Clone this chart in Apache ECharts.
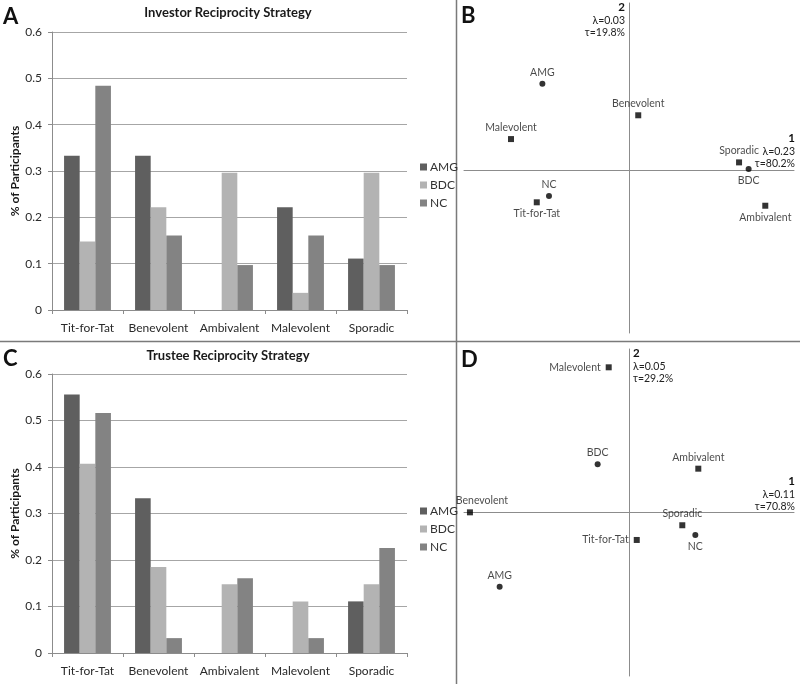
<!DOCTYPE html>
<html>
<head>
<meta charset="utf-8">
<script src="https://cdn.jsdelivr.net/npm/echarts@6/dist/echarts.min.js"></script>
<style>
html,body{margin:0;padding:0;background:#fff;}
#chart{width:800px;height:684px;}
</style>
</head>
<body>
<div id="chart"></div>
<script>
// ---------- DATA ----------
const categories = ['Tit-for-Tat', 'Benevolent', 'Ambivalent', 'Malevolent', 'Sporadic'];
const groupNames = ['AMG', 'BDC', 'NC'];

// Panel A: Investor reciprocity strategy (proportion of participants)
const investorAMG = [0.333, 0.333, 0.000, 0.222, 0.111];
const investorBDC = [0.148, 0.222, 0.296, 0.037, 0.296];
const investorNC  = [0.484, 0.161, 0.097, 0.161, 0.097];

// Panel C: Trustee reciprocity strategy
const trusteeAMG = [0.556, 0.333, 0.000, 0.000, 0.111];
const trusteeBDC = [0.407, 0.185, 0.148, 0.111, 0.148];
const trusteeNC  = [0.516, 0.032, 0.161, 0.032, 0.226];

// Panel B: correspondence analysis (investor) — dimension scores
const invGroupDim1 = [-0.525, 0.725, -0.485];
const invGroupDim2 = [0.529, 0.006, -0.160];
const invStratDim1 = [-0.559, 0.056, 0.826, -0.715, 0.667];
const invStratDim2 = [-0.198, 0.336, -0.219, 0.190, 0.047];
const invDim1Info = ['1', 'λ=0.23', 'τ=80.2%'];
const invDim2Info = ['2', 'λ=0.03', 'τ=19.8%'];

// Panel D: correspondence analysis (trustee)
const truGroupDim1 = [-0.784, -0.190, 0.402];
const truGroupDim2 = [-0.454, 0.295, -0.138];
const truStratDim1 = [0.047, -0.964, 0.420, -0.123, 0.323];
const truStratDim2 = [-0.168, 0.001, 0.268, 0.888, -0.078];
const truDim1Info = ['1', 'λ=0.11', 'τ=70.8%'];
const truDim2Info = ['2', 'λ=0.05', 'τ=29.2%'];

const yTicks = [0, 0.1, 0.2, 0.3, 0.4, 0.5, 0.6];

// ---------- STYLE ----------
const FONT = 'Lato';
const colors = { AMG: '#5f5f5f', BDC: '#b3b3b3', NC: '#838383' };
const labelPlace = {
  invGroups: { AMG: ['top'], BDC: ['bottom'], NC: ['top'] },
  invStrats: { 'Tit-for-Tat': ['bottom'], Benevolent: ['top'], Ambivalent: ['bottom'], Malevolent: ['top'], Sporadic: ['top'] },
  truGroups: { AMG: ['top'], BDC: ['top'], NC: ['bottom'] },
  truStrats: { 'Tit-for-Tat': ['left'], Benevolent: ['top', [12, 0]], Ambivalent: ['top'], Malevolent: ['left'], Sporadic: ['top'] }
};

function pts(names, d1, d2, placeKey) {
  return names.map((n, i) => {
    const p = labelPlace[placeKey][n] || ['top'];
    return {
      name: n,
      value: [d1[i], d2[i]],
      label: { position: p[0], offset: p[1] || [0, 0], distance: p[0] === 'left' ? 5 : 3 }
    };
  });
}

function barSeries(name, data, idx) {
  return {
    type: 'bar', name: name, data: data,
    xAxisIndex: idx, yAxisIndex: idx,
    barGap: '0%', barCategoryGap: '34%',
    itemStyle: { color: colors[name] },
    silent: true
  };
}

function scatterSeries(name, data, idx, symbol) {
  return {
    type: 'scatter', name: name, data: data,
    xAxisIndex: idx, yAxisIndex: idx,
    symbol: symbol, symbolSize: 6,
    itemStyle: { color: '#000' },
    label: { show: true, formatter: '{b}', fontFamily: FONT, fontSize: 10.5, color: '#1a1a1a' },
    silent: true
  };
}

const barX = (gi) => ({
  type: 'category', gridIndex: gi, data: categories,
  axisLine: { lineStyle: { color: '#8c8c8c', width: 1 } },
  axisTick: { show: true, length: 4, lineStyle: { color: '#8c8c8c' } },
  axisLabel: { interval: 0, fontFamily: FONT, fontSize: 12, color: '#2a2a2a', margin: 12 }
});
const barY = (gi) => ({
  type: 'value', gridIndex: gi, min: yTicks[0], max: yTicks[yTicks.length - 1], interval: 0.1,
  name: '% of Participants', nameLocation: 'middle', nameGap: 31, nameRotate: 90,
  nameTextStyle: { fontFamily: FONT, fontSize: 12, fontWeight: 'bold', color: '#1a1a1a' },
  axisLine: { show: true, lineStyle: { color: '#8c8c8c', width: 1 } },
  axisTick: { show: true, length: 4, lineStyle: { color: '#8c8c8c' } },
  axisLabel: { fontFamily: FONT, fontSize: 12, color: '#2a2a2a', margin: 10,
    formatter: v => (v === 0 ? '0' : v.toFixed(1)) },
  splitLine: { lineStyle: { color: '#a6a6a6', width: 1 } }
});
const caAxis = (gi, min, max) => ({
  type: 'value', gridIndex: gi, min: min, max: max,
  axisLine: { show: true, onZero: true, lineStyle: { color: '#8c8c8c', width: 1 } },
  axisTick: { show: false }, axisLabel: { show: false }, splitLine: { show: false }
});

function richInfo(info) {
  return '{b|' + info[0] + '}\n' + info[1] + '\n' + info[2];
}
function infoText(info, x, y, align) {
  return {
    type: 'text', x: x, y: y, silent: true,
    style: {
      text: richInfo(info), align: align, verticalAlign: 'top',
      fontFamily: FONT, fontSize: 10.5, fill: '#222', lineHeight: 12.5,
      rich: { b: { fontFamily: FONT, fontSize: 11.5, fontWeight: 'bold', fill: '#111', lineHeight: 14 } }
    }
  };
}
function bigLetter(t, x, y) {
  return { type: 'text', x: x, y: y, silent: true,
    style: { text: t, fontFamily: FONT, fontSize: 22, fontWeight: 'bold', fill: '#111' } };
}
function titleText(t, x, y) {
  return { type: 'text', x: x, y: y, silent: true,
    style: { text: t, align: 'center', verticalAlign: 'middle', fontFamily: FONT, fontSize: 13, fontWeight: 'bold', fill: '#1a1a1a' } };
}

const chart = echarts.init(document.getElementById('chart'), null, { renderer: 'canvas' });
chart.setOption({
  backgroundColor: '#fff',
  animation: false,
  grid: [
    { left: 52, top: 32, width: 355, height: 278 },
    { left: 52, top: 374, width: 355, height: 279 },
    { left: 464, top: 3, width: 330, height: 330 },
    { left: 464, top: 349, width: 330, height: 327 }
  ],
  xAxis: [barX(0), barX(1), caAxis(2, -1, 1), caAxis(3, -1, 1)],
  yAxis: [barY(0), barY(1), caAxis(2, -1, 1.025), caAxis(3, -1, 1)],
  legend: [
    { data: groupNames, orient: 'vertical', left: 415, top: 156, icon: 'rect', itemWidth: 7, itemHeight: 7, itemGap: 6,
      textStyle: { fontFamily: FONT, fontSize: 12, color: '#333', padding: [0, 0, 0, -2] }, selectedMode: false },
    { data: groupNames, orient: 'vertical', left: 415, top: 500, icon: 'rect', itemWidth: 7, itemHeight: 7, itemGap: 6,
      textStyle: { fontFamily: FONT, fontSize: 12, color: '#333', padding: [0, 0, 0, -2] }, selectedMode: false }
  ],
  series: [
    barSeries('AMG', investorAMG, 0),
    barSeries('BDC', investorBDC, 0),
    barSeries('NC', investorNC, 0),
    barSeries('AMG', trusteeAMG, 1),
    barSeries('BDC', trusteeBDC, 1),
    barSeries('NC', trusteeNC, 1),
    scatterSeries('Investor groups', pts(groupNames, invGroupDim1, invGroupDim2, 'invGroups'), 2, 'circle'),
    scatterSeries('Investor strategies', pts(categories, invStratDim1, invStratDim2, 'invStrats'), 2, 'rect'),
    scatterSeries('Trustee groups', pts(groupNames, truGroupDim1, truGroupDim2, 'truGroups'), 3, 'circle'),
    scatterSeries('Trustee strategies', pts(categories, truStratDim1, truStratDim2, 'truStrats'), 3, 'rect')
  ],
  graphic: [
    { type: 'line', silent: true, shape: { x1: 456.5, y1: 0, x2: 456.5, y2: 684 }, style: { stroke: '#7a7a7a', lineWidth: 1.5 } },
    { type: 'line', silent: true, shape: { x1: 0, y1: 341.5, x2: 800, y2: 341.5 }, style: { stroke: '#7a7a7a', lineWidth: 1.5 } },
    bigLetter('A', 3, 6),
    bigLetter('B', 461, 5),
    bigLetter('C', 3, 348),
    bigLetter('D', 461, 349),
    titleText('Investor Reciprocity Strategy', 228, 12.5),
    titleText('Trustee Reciprocity Strategy', 228, 356),
    infoText(invDim2Info, 625, 0, 'right'),
    infoText(invDim1Info, 795, 131, 'right'),
    infoText(truDim2Info, 633, 346, 'left'),
    infoText(truDim1Info, 795, 474, 'right')
  ]
});
</script>
</body>
</html>
